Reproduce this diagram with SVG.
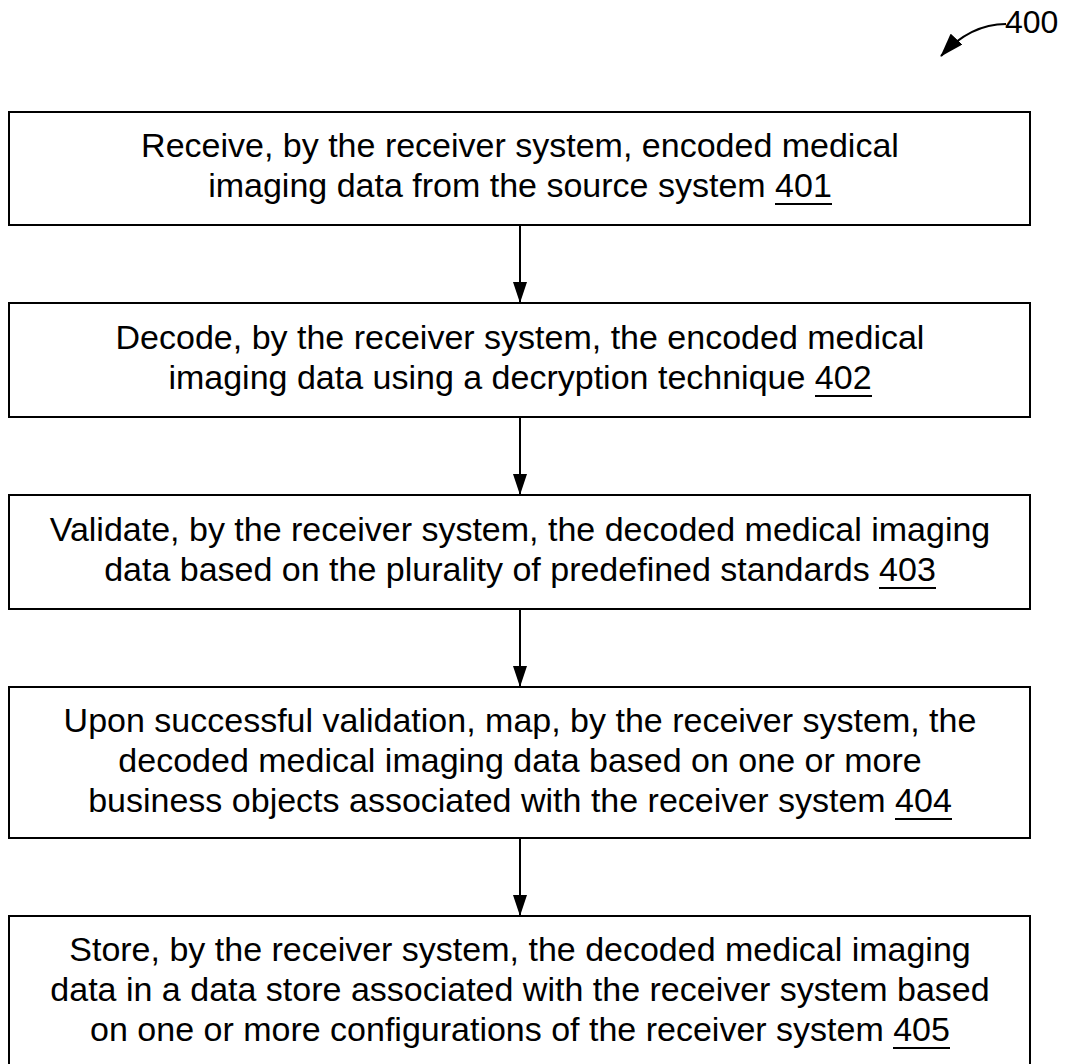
<svg xmlns="http://www.w3.org/2000/svg" width="1067" height="1064" viewBox="0 0 1067 1064">
  <style>
    .box { fill: #ffffff; stroke: #000000; stroke-width: 2; }
    .lbl { font-family: "Liberation Sans", Arial, sans-serif; font-size: 34px; fill: #000000; text-anchor: middle; }
    .ul { stroke: #000000; stroke-width: 2; }
    .conn { stroke: #000000; stroke-width: 2; fill: none; }
  </style>
  <defs>
    <!-- filled arrowhead, drawn pointing along +x -->
    <marker id="head" viewBox="0 0 21 14" refX="21" refY="7" markerWidth="21" markerHeight="14" markerUnits="userSpaceOnUse" orient="auto">
      <path d="M0,0 L21,7 L0,14 Z" fill="#000000"/>
    </marker>
    <marker id="head400" viewBox="0 0 24 16" refX="23" refY="8" markerWidth="24" markerHeight="16" markerUnits="userSpaceOnUse" orient="auto">
      <path d="M0,0 L24,8 L0,16 Z" fill="#000000"/>
    </marker>
  </defs>

  <!-- figure reference -->
  <g id="fig-label">
    <text x="1005" y="33" style="font-family: 'Liberation Sans', Arial, sans-serif; font-size: 32px;">400</text>
    <path d="M1006,24 C985,24 963,32 941,56" class="conn" stroke-width="1.5" marker-end="url(#head400)"/>
  </g>

  <!-- connectors -->
  <g id="connectors">
    <line x1="520" y1="225" x2="520" y2="303" class="conn" marker-end="url(#head)"/>
    <line x1="520" y1="417" x2="520" y2="495" class="conn" marker-end="url(#head)"/>
    <line x1="520" y1="609" x2="520" y2="687" class="conn" marker-end="url(#head)"/>
    <line x1="520" y1="838" x2="520" y2="916" class="conn" marker-end="url(#head)"/>
  </g>

  <g id="step401">
    <rect x="9" y="112" width="1021" height="113" class="box"/>
    <text class="lbl" x="520" y="157">Receive, by the receiver system, encoded medical</text>
    <text class="lbl" x="520" y="197">imaging data from the source system 401</text>
    <line class="ul" x1="775" y1="204" x2="832" y2="204"/>
  </g>

  <g id="step402">
    <rect x="9" y="303" width="1021" height="114" class="box"/>
    <text class="lbl" x="520" y="349">Decode, by the receiver system, the encoded medical</text>
    <text class="lbl" x="520" y="389">imaging data using a decryption technique 402</text>
    <line class="ul" x1="815" y1="396" x2="872" y2="396"/>
  </g>

  <g id="step403">
    <rect x="9" y="495" width="1021" height="114" class="box"/>
    <text class="lbl" x="520" y="541">Validate, by the receiver system, the decoded medical imaging</text>
    <text class="lbl" x="520" y="581">data based on the plurality of predefined standards 403</text>
    <line class="ul" x1="879" y1="588" x2="936" y2="588"/>
  </g>

  <g id="step404">
    <rect x="9" y="687" width="1021" height="151" class="box"/>
    <text class="lbl" x="520" y="732">Upon successful validation, map, by the receiver system, the</text>
    <text class="lbl" x="520" y="772">decoded medical imaging data based on one or more</text>
    <text class="lbl" x="520" y="812">business objects associated with the receiver system 404</text>
    <line class="ul" x1="895" y1="819" x2="952" y2="819"/>
  </g>

  <g id="step405">
    <rect x="9" y="916" width="1021" height="152" class="box"/>
    <text class="lbl" x="520" y="961">Store, by the receiver system, the decoded medical imaging</text>
    <text class="lbl" x="520" y="1001">data in a data store associated with the receiver system based</text>
    <text class="lbl" x="520" y="1041">on one or more configurations of the receiver system 405</text>
    <line class="ul" x1="893" y1="1048" x2="950" y2="1048"/>
  </g>
</svg>
